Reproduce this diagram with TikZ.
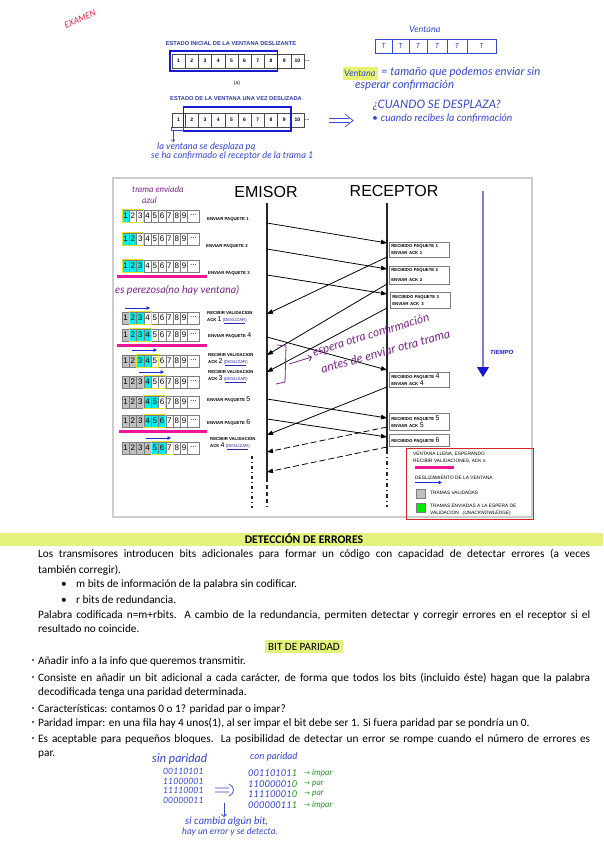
\documentclass[tikz,border=0pt]{standalone}
\usepackage{fontspec}
\setmainfont{Carlito}
\newfontfamily\arialfont{Liberation Sans}
\newfontfamily\handfont{Lato}
\newfontfamily\symfont{DejaVu Sans}
\usetikzlibrary{arrows.meta,positioning}
\definecolor{notesblue}{RGB}{52,72,210}
\definecolor{notespurple}{RGB}{125,40,140}
\definecolor{notesgreen}{RGB}{40,150,40}
\definecolor{examred}{RGB}{225,30,60}
\definecolor{titleblue}{RGB}{45,60,165}
\definecolor{winblue}{RGB}{25,25,210}
\definecolor{framegray}{RGB}{205,205,205}
\definecolor{cellgray}{RGB}{125,125,125}
\definecolor{validgray}{RGB}{192,192,192}
\definecolor{sentcyan}{RGB}{0,238,238}
\definecolor{winyellow}{RGB}{225,225,40}
\definecolor{fullpink}{RGB}{240,20,150}
\definecolor{slideblue}{RGB}{30,40,210}
\definecolor{timeblue}{RGB}{125,125,215}
\definecolor{legendred}{RGB}{210,40,40}
\definecolor{sentgreen}{RGB}{0,235,0}
\definecolor{markgreen}{RGB}{228,242,125}
\definecolor{linkblue}{RGB}{40,40,170}

\newcommand{\bignum}[1]{{\mdseries\fontsize{7}{7}\selectfont #1}}
\newcommand{\deslizar}{{\mdseries\color{linkblue}(\underline{DESLIZAR})}}

% one row of the sender window: y, validated, first sent, last sent, window start
\newcommand{\winrow}[5]{%
  \foreach \i in {1,...,9} {%
    \def\cellfill{white}%
    \ifnum\i>#2\relax\else\def\cellfill{validgray}\fi
    \ifnum\i<#3\relax\else\ifnum\i>#4\relax\else\def\cellfill{sentcyan}\fi\fi
    \draw[cellline, fill=\cellfill] ({122+(\i-1)*7.3},{#1-6}) rectangle ++(7.3,12);
    \node[digit] (c-#1-\i) at ({118.35+\i*7.3},#1) {\i};
  }
  \draw[cellline] (187.7,{#1-6}) rectangle ++(11.5,12);
  \node[digit] (dots-#1) at (193.45,{#1-1}) {...};
  \draw[winline] ({122+(#5-1)*7.3},{#1-6.5}) rectangle ++(21.9,13);
}

\tikzset{
  lbl/.style={anchor=west, inner sep=0pt, align=left, font=\arialfont\fontsize{4.3}{7}\selectfont\bfseries},
  digit/.style={inner sep=0pt, font=\arialfont\fontsize{8}{8}\selectfont},
  topdigit/.style={inner sep=0pt, font=\arialfont\fontsize{5}{5}\selectfont\bfseries},
  cellline/.style={draw=cellgray, line width=0.5pt},
  winline/.style={draw=winyellow, line width=1pt},
  rbox/.style={draw=cellgray, line width=0.7pt, anchor=north west, text width=56pt, inner xsep=2pt, inner ysep=1pt, align=left, font=\arialfont\fontsize{4.3}{7}\selectfont\bfseries},
  msg/.style={black, line width=0.8pt, -{Triangle[length=6pt,width=4.5pt]}},
  life/.style={black!85, line width=1.3pt},
  slide/.style={slideblue, line width=0.9pt, -{Triangle[length=3.5pt,width=3.5pt]}},
  hand/.style={anchor=west, inner sep=0pt, text=notesblue, font=\handfont\itshape\fontsize{#1}{#1}\selectfont},
  hand/.default=8,
  penpurple/.style={hand=#1, text=notespurple},
  penpurple/.default=9,
  body/.style={anchor=base west, inner sep=0pt, font=\fontsize{11.3}{13}\selectfont},
  bodyfull/.style={body, text width=552pt, align=justify},
  legend/.style={anchor=west, inner sep=0pt, font=\arialfont\fontsize{4.8}{6}\selectfont},
  toptitle/.style={inner sep=0pt, text=titleblue, font=\arialfont\fontsize{5.7}{6}\selectfont\bfseries},
}

\begin{document}
\begin{tikzpicture}[x=1pt,y=-1pt]
    \useasboundingbox (0,0) rectangle (603,848);
    \fill[white] (0,0) rectangle (603,848);

    % ---------- top: sliding window states
    \node[hand=8.5, text=examred, rotate=22, anchor=center] (exam) at (80,19) {EXAMEN};
    \node[toptitle] (tit1) at (231,44) {ESTADO INICIAL DE LA VENTANA DESLIZANTE};
    \foreach \n in {1,...,10} {
        \draw[black!70, line width=0.6pt] ({172+(\n-1)*13.2},54) rectangle ++(13.2,14);
        \node[topdigit] (a\n) at ({165.4+\n*13.2},61) {\n};
        \draw[black!70, line width=0.6pt] ({172+(\n-1)*13.2},113) rectangle ++(13.2,14);
        \node[topdigit] (b\n) at ({165.4+\n*13.2},120) {\n};
    }
    \node[topdigit, anchor=west] (adots) at (305,61) {...};
    \node[topdigit, anchor=west] (bdots) at (305,120) {...};
    \draw[winblue, line width=1.6pt] (170,51) rectangle (277.5,71);
    \draw[winblue, line width=1.6pt] (183.5,107) rectangle (291,131);
    \node[inner sep=0pt, font=\arialfont\fontsize{5}{5}\selectfont] (capa) at (237,83) {(a)};
    \node[toptitle] (tit2) at (236,99) {ESTADO DE LA VENTANA UNA VEZ DESLIZADA};

    % ---------- top notes
    \draw[notesblue, line width=0.6pt] (171,127) -- (171,130) -- (183,130) -- (183,127);
    \coordinate (brk) at (173,130);
    \coordinate (brkEnd) at (173,142);
    \draw[notesblue, line width=0.6pt, -{Straight Barb[length=2pt]}] (brk) -- (brkEnd);
    \node[hand=9.3] (n1) at (157,147) {la ventana se desplaza pq};
    \node[hand=9.3] (n2) at (151,156) {se ha confirmado el receptor de la trama 1};

    \node[hand=9] (vent) at (409,29) {Ventana};
    \foreach \xa/\xb [count=\k] in {375/392,392/409,409/427,427/447,447/467,467/496} {
        \draw[notesblue, line width=0.7pt] (\xa,39) rectangle (\xb,53);
        \node[hand=7, anchor=center] (t\k) at ({(\xa+\xb)/2},46) {T};
    }
    \fill[markgreen!90!yellow] (343,67) rectangle (378,80);
    \node[hand=9] (vdef) at (344,73) {Ventana};
    \node[hand=11.4] (vdef2) at (381,72) {= tamaño que podemos enviar sin};
    \node[hand=11.4] (vdef3) at (355,85) {esperar confirmación};
    \node[hand=11.6] (cuando) at (373,105) {¿CUANDO SE DESPLAZA?};
    \draw[notesblue, line width=0.7pt] (329,118.5) -- (349,118.5) (329,122.5) -- (349,122.5)
        (345,114) -- (353,120.5) -- (345,127);
    \node[hand=10.3] (cuando2) at (372,118) {• cuando recibes la confirmación};

    % ---------- sequence diagram frame
    \draw[framegray, line width=1.2pt] (113,178) rectangle (532,517);
    \node[inner sep=0pt, font=\arialfont\fontsize{16}{16}\selectfont] (emisor) at (266,192) {EMISOR};
    \node[inner sep=0pt, font=\arialfont\fontsize{16}{16}\selectfont] (receptor) at (394,191) {RECEPTOR};
    \node[penpurple=8.6] (tra1) at (132,189) {trama enviada};
    \node[penpurple=8.6] (tra2) at (142,200) {azul};

    % lifelines
    \coordinate (emiTop) at (267,203);
    \coordinate (emiMid) at (267,478);
    \coordinate (emiEnd) at (267,507);
    \coordinate (recTop) at (387,203);
    \coordinate (recMid) at (387,450);
    \coordinate (recEnd) at (387,507);
    \draw[life] (emiTop) -- (emiMid);
    \draw[life, line width=1.1pt, dash pattern=on 4pt off 3pt] (emiMid) -- (emiEnd);
    \draw[life] (recTop) -- (recMid);
    \draw[life, line width=1.1pt, dash pattern=on 4pt off 3pt on 1pt off 3pt] (recMid) -- (recEnd);
    \draw[black!85, line width=1.1pt, dash pattern=on 3pt off 3pt on 1pt off 3pt] (252,456) -- (252,508);

    % time axis
    \coordinate (tTop) at (483,191);
    \coordinate (tEnd) at (483,377);
    \draw[timeblue, line width=1.3pt, -{Triangle[length=10pt,width=12pt,color=winblue]}] (tTop) -- (tEnd);
    \node[inner sep=0pt, anchor=west, text=winblue, font=\arialfont\fontsize{6}{6}\selectfont\bfseries\itshape] (tiempo) at (490,352) {TIEMPO};

    % sender window rows
    \foreach \y/\g/\ca/\cb/\w in {216/0/1/1/1, 239/0/1/2/1, 266/0/1/3/1, 318/1/2/3/2, 335/1/2/4/2,
                                  361/2/3/4/3, 382/3/4/4/4, 402/3/4/5/4, 421/3/4/6/4, 448/4/5/6/5}
        {\winrow{\y}{\g}{\ca}{\cb}{\w}}

    % window full
    \fill[fullpink] (117,274.5) rectangle (207,277.5);
    \fill[fullpink] (117,343.5) rectangle (207,346.5);
    \fill[fullpink] (119,429.5) rectangle (207,432.5);
    % window slides
    \draw[slide] (125,308) -- (150,308);
    \draw[slide] (132,350) -- (157,350);
    \draw[slide] (139,372) -- (164,372);
    \draw[slide] (146,438) -- (171,438);

    % sender labels
    \node[lbl] (lab1) at (207,219) {ENVIAR PAQUETE 1};
    \node[lbl] (lab2) at (206,246) {ENVIAR PAQUETE 2};
    \node[lbl] (lab3) at (208,273) {ENVIAR PAQUETE 3};
    \node[lbl] (lab4) at (207,317.5) {RECIBIR VALIDACION\\ACK \bignum{1} \deslizar};
    \node[lbl] (lab5) at (208,336) {ENVIAR PAQUETE \bignum{4}};
    \node[lbl] (lab6) at (208,360) {RECIBIR VALIDACION\\ACK \bignum{2} \deslizar};
    \node[lbl] (lab7) at (208,377) {RECIBIR VALIDACION\\ACK \bignum{3} \deslizar};
    \node[lbl] (lab8) at (207,400) {ENVIAR PAQUETE \bignum{5}};
    \node[lbl] (lab9) at (207,422) {ENVIAR PAQUETE \bignum{6}};
    \node[lbl] (lab10) at (210,443.5) {RECIBIR VALIDACION\\ACK \bignum{4} \deslizar};

    % receiver boxes
    \node[rbox, minimum height=15pt] (rec1) at (389,242) {RECIBIDO PAQUETE 1\\ENVIAR ACK 1};
    \node[rbox, minimum height=18pt] (rec2) at (389,266) {RECIBIDO PAQUETE 2\\[3pt]ENVIAR ACK 2};
    \node[rbox, minimum height=16pt] (rec3) at (390,292) {RECIBIDO PAQUETE 3\\ENVIAR ACK\, 3};
    \node[rbox, minimum height=15pt] (rec4) at (389,372) {RECIBIDO PAQUETE \bignum{4}\\ENVIAR ACK \bignum{4}};
    \node[rbox, minimum height=17pt] (rec5) at (389,413) {RECIBIDO PAQUETE \bignum{5}\\ENVIAR ACK \bignum{5}};
    \node[rbox, minimum height=12pt] (rec6) at (389,434) {RECIBIDO PAQUETE \bignum{6}};

    % packets and acks
    \coordinate (sP1) at (267,223); \coordinate (rP1) at (387,243);
    \coordinate (sP2) at (267,249); \coordinate (rP2) at (387,269);
    \coordinate (sP3) at (267,275); \coordinate (rP3) at (387,294);
    \coordinate (sP4) at (267,337); \coordinate (rP4) at (387,370);
    \coordinate (sP5) at (267,399); \coordinate (rP5) at (387,418);
    \coordinate (sP6) at (267,419); \coordinate (rP6) at (387,437);
    \coordinate (rA1) at (387,257); \coordinate (sA1) at (267,314);
    \coordinate (rA2) at (387,284); \coordinate (sA2) at (267,355);
    \coordinate (rA3) at (387,308); \coordinate (sA3) at (267,372);
    \coordinate (rA4) at (387,387); \coordinate (sA4) at (267,435);
    \coordinate (rA5) at (387,427); \coordinate (sA5) at (267,452);
    \coordinate (rA6) at (387,447); \coordinate (sA6) at (267,472);
    \foreach \k in {1,...,6} {\draw[msg] (sP\k) -- (rP\k);}
    \foreach \k in {1,...,4} {\draw[msg] (rA\k) -- (sA\k);}
    \foreach \k in {5,6} {\draw[msg, dash pattern=on 6pt off 3pt] (rA\k) -- (sA\k);}

    % purple notes
    \node[penpurple=10.6] (lazy) at (115,290) {es perezosa(no hay ventana)};
    \draw[notespurple, line width=0.8pt] (277,345) -- (286,346) -- (285,382) -- (276,384);
    \coordinate (brA) at (289,364);
    \coordinate (brB) at (312,357);
    \draw[notespurple, line width=0.8pt, -{Straight Barb[length=3pt]}] (brA) -- (brB);
    \node[penpurple=11.8, rotate=17] (wait1) at (313,353) {espera otra confirmación};
    \node[penpurple=12.2, rotate=15.5] (wait2) at (321,369) {antes de enviar otra trama};

    % legend
    \draw[legendred, line width=0.9pt] (406,448) rectangle (533,519);
    \node[legend, align=left, font=\arialfont\fontsize{4.8}{7}\selectfont] (leg1) at (413,457.5) {VENTANA LLENA, ESPERANDO\\RECIBIR VALIDACIONES, ACK n};
    \fill[fullpink] (415,465.5) rectangle (454,468.5);
    \node[legend] (leg2) at (415,478) {DESLIZAMIENTO DE LA VENTANA};
    \draw[slide] (415,482.5) -- (442,482.5);
    \draw[cellgray, fill=validgray] (416,489) rectangle (425,498);
    \node[legend] (leg3) at (430,493) {TRAMAS VALIDADAS};
    \draw[cellgray, fill=sentgreen] (416,503) rectangle (425,512);
    \node[legend, align=left, font=\arialfont\fontsize{4.8}{6.5}\selectfont] (leg4) at (430,510) {TRAMAS ENVIADAS A LA ESPERA DE\\VALIDACION \enspace{\itshape (UNACKNOWLEDGE)}};

    % ---------- error detection text
    \fill[markgreen] (0,533) rectangle (603,546);
    \node[inner sep=0pt, anchor=base, font=\fontsize{11.7}{13}\selectfont\bfseries] (det) at (304,543.5) {DETECCIÓN DE ERRORES};
    \node[bodyfull] (p1) at (38,557) {\parfillskip=0pt Los transmisores introducen bits adicionales para formar un código con capacidad de detectar errores (a veces\par};
    \node[body] (p2) at (38,573) {también corregir).};
    \node[body] (b1) at (61,587) {•};
    \node[body] (p3) at (76,587) {m bits de información de la palabra sin codificar.};
    \node[body] (b2) at (61,603) {•};
    \node[body] (p4) at (76,603) {r bits de redundancia.};
    \node[bodyfull] (p5) at (38,618) {\parfillskip=0pt Palabra codificada n=m+rbits. A cambio de la redundancia, permiten detectar y corregir errores en el receptor si el\par};
    \node[body] (p6) at (38,632) {resultado no coincide.};

    \fill[markgreen] (265,639.5) rectangle (343,652.5);
    \node[inner sep=0pt, anchor=base, font=\fontsize{11.1}{13}\selectfont] (bit) at (304,650) {BIT DE PARIDAD};
    \foreach \yb in {660,677,708,722,738} {\fill[black!80] (33,\yb) circle (1.1);}
    \node[body] (q1) at (38,664) {Añadir info a la info que queremos transmitir.};
    \node[bodyfull] (q2) at (38,681) {\parfillskip=0pt Consiste en añadir un bit adicional a cada carácter, de forma que todos los bits (incluido éste) hagan que la palabra\par};
    \node[body] (q3) at (38,695) {decodificada tenga una paridad determinada.};
    \node[body] (q4) at (38,712) {Características: contamos 0 o 1? paridad par o impar?};
    \node[body] (q5) at (38,726) {Paridad impar: en una fila hay 4 unos(1), al ser impar el bit debe ser 1. Si fuera paridad par se pondría un 0.};
    \node[bodyfull] (q6) at (38,742) {\parfillskip=0pt Es aceptable para pequeños bloques. La posibilidad de detectar un error se rompe cuando el número de errores es\par};
    \node[body] (q7) at (38,756) {par.};

    % ---------- parity example (hand notes)
    \node[hand=12] (sinp) at (152,759) {sin paridad};
    \node[hand=9.6] (conp) at (250,757) {con paridad};
    \foreach \w [count=\r] in {00110101,11000001,11110001,00000011} {
        \node[hand=8.7] (w\r) at (163,{762+\r*9.5}) {\w};
    }
    \foreach \w/\pb/\lab [count=\r] in {00110101/1/impar,11000001/0/par,11110001/0/par,00000011/1/impar} {
        \node[hand=9.4] (v\r) at (248,{763+\r*10.5}) {\w{\color{notesgreen}\pb}};
        \node[hand=8.5, text=notesgreen] (l\r) at (304,{763+\r*10.5}) {{\symfont\fontsize{7}{7}\selectfont →} \lab};
    }
    \draw[notesblue, line width=0.7pt] (215,788) -- (229,788) (215,792) -- (229,792)
        (229,784) .. controls (235,787) and (235,793) .. (229,796);
    \coordinate (dnA) at (224,803);
    \coordinate (dnB) at (224,817);
    \draw[notesblue, line width=0.7pt, -{Straight Barb[length=2.5pt]}] (dnA) -- (dnB);
    \node[hand=10.4] (cam1) at (185,822) {si cambia algún bit,};
    \node[hand=9.1] (cam2) at (182,832) {hay un error y se detecta.};
\end{tikzpicture}
\end{document}
